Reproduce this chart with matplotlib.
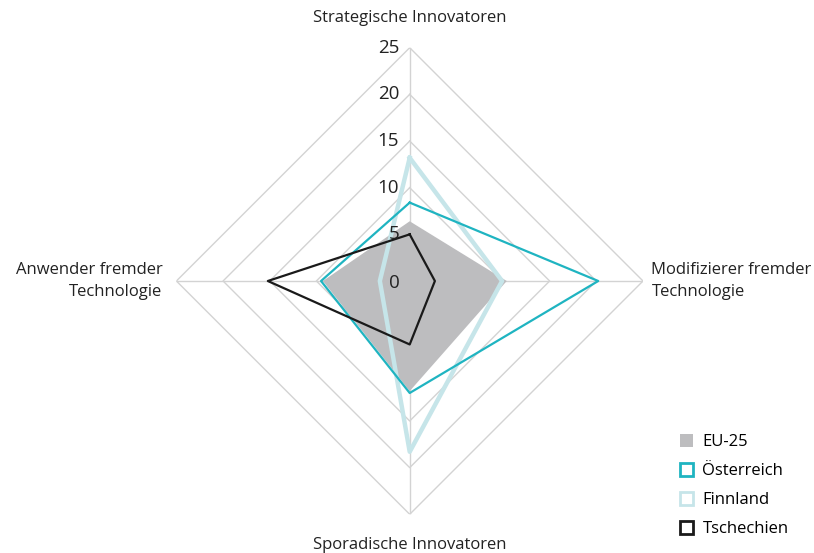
import numpy as np
import matplotlib
matplotlib.use("Agg")
from matplotlib import pyplot as plt
from matplotlib.patches import Patch

plt.rcParams['font.family'] = ['Open Sans', 'DejaVu Sans']

# Achsen: oben, rechts, unten, links
categories = ["Strategische Innovatoren", "Modifizierer fremder\nTechnologie",
              "Sporadische Innovatoren", "Anwender fremder\nTechnologie"]
angles_deg = [90, 0, 270, 180]

eu25 = [6.4, 10.4, 11.8, 9.3]
oesterreich = [8.4, 20.2, 12.0, 9.5]
finnland = [13.2, 9.9, 18.3, 3.2]
tschechien = [5.0, 2.7, 6.8, 15.2]

levels = [5, 10, 15, 20, 25]
tick_labels = ["0", "5", "10", "15", "20", "25"]

c_eu = "#bdbdbf"
c_at = "#1fb4c1"
c_fi = "#c6e5e9"
c_cz = "#1a1a1a"
c_grid = "#d3d3d3"
c_txt = "#222222"

theta = np.deg2rad(angles_deg)
theta_c = np.append(theta, theta[0])


def closed(v):
    return np.append(v, v[0])


fig = plt.figure(figsize=(8.14, 5.53), dpi=100)
cx, cy, R = 409.7 / 814, (553 - 281) / 553, 233.3
w, h = R / 814, R / 553
ax = fig.add_axes([cx - w, cy - h, 2 * w, 2 * h], projection='polar')
ax.set_ylim(0, 25)
ax.grid(False)
ax.spines['polar'].set_visible(False)
ax.set_xticks([])
ax.set_yticks([])
ax.patch.set_alpha(0)

# Raster (Rauten + Achsen)
for lv in levels:
    ax.plot(theta_c, [lv] * 5, color=c_grid, lw=1, zorder=1)
for t in theta:
    ax.plot([t, t], [0, 25], color=c_grid, lw=1, zorder=1)

ax.fill(theta_c, closed(eu25), color=c_eu, lw=0, zorder=2)
ax.plot(theta_c, closed(finnland), color=c_fi, lw=3.2, zorder=3)
ax.plot(theta_c, closed(oesterreich), color=c_at, lw=1.6, zorder=4)
ax.plot(theta_c, closed(tschechien), color=c_cz, lw=1.6, zorder=5)

# Skalenbeschriftung
for i, lab in enumerate(tick_labels):
    ax.annotate(lab, (np.pi / 2, i * 5), xytext=(-7.5, -1.5 if i == 0 else 0),
                textcoords='offset points', ha='right', va='center',
                fontsize=13.5, color=c_txt, zorder=6)

# Kategorien
ax.text(np.pi / 2, 28.2, categories[0], ha='center', va='center', fontsize=12, color=c_txt)
ax.text(0, 25.9, categories[1], ha='left', va='center', fontsize=12, color=c_txt,
        linespacing=1.45)
ax.text(3 * np.pi / 2, 28.3, categories[2], ha='center', va='center', fontsize=12, color=c_txt)
ax.text(np.pi, 26.5, categories[3], ha='right', va='center', fontsize=12, color=c_txt,
        linespacing=1.45, multialignment='right')

handles = [Patch(facecolor=c_eu, edgecolor=c_eu, lw=0),
           Patch(facecolor='white', edgecolor=c_at, lw=2),
           Patch(facecolor='white', edgecolor=c_fi, lw=2),
           Patch(facecolor='white', edgecolor=c_cz, lw=2)]
fig.legend(handles, ["EU-25", "Österreich", "Finnland", "Tschechien"],
           loc='lower left', bbox_to_anchor=(0.821, 0.007), frameon=False,
           fontsize=12, handlelength=0.8, handleheight=0.8, handletextpad=0.55,
           labelspacing=0.78, borderaxespad=0.3)

fig.savefig("out.png", dpi=100)
